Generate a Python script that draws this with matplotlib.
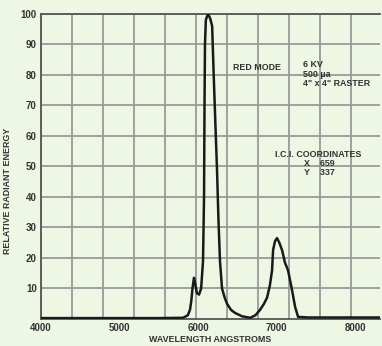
import matplotlib
matplotlib.use("Agg")
import matplotlib.pyplot as plt
import numpy as np

# spectrum (wavelength in angstroms, relative energy)
wavelength = [4000, 4500, 5000, 5500, 5809, 5870, 5898, 5915, 5930, 5949, 5962, 5985,
              6013, 6040, 6064, 6077, 6083, 6089, 6100, 6127, 6155, 6180, 6200,
              6220, 6242, 6260, 6280, 6306, 6340, 6370, 6420, 6471, 6560, 6663, 6730,
              6790, 6840, 6879, 6915, 6943, 6956, 6980, 7006, 7035, 7070, 7108,
              7146, 7197, 7236, 7274, 7400, 7810, 8318]
energy = [0.3, 0.3, 0.3, 0.3, 0.4, 1.2, 3, 6, 10, 13.5, 12, 8.5,
          8, 10, 19, 40, 70, 90, 98, 100, 98.5, 96, 80,
          65, 49, 33, 19, 10, 7, 5, 3, 2, 0.9, 0.4, 1.2,
          3, 5, 7, 11, 16, 22.6, 25.5, 26.5, 25, 22.6, 18.4,
          16, 9.5, 4, 0.7, 0.5, 0.5, 0.5]

x_ticks = [4000, 5000, 6000, 7000, 8000]
y_ticks = [10, 20, 30, 40, 50, 60, 70, 80, 90, 100]

bg = "#eef6e4"
plt.rcParams["font.family"] = ["Liberation Sans", "DejaVu Sans"]

fig = plt.figure(figsize=(3.82, 3.46), dpi=100, facecolor=bg)
ax = fig.add_axes([0.107, 0.078, 0.888, 0.882])
ax.set_facecolor(bg)

# paper grid: vertical lines about every 395 A, horizontal every 10 units
for gx in np.arange(4000, 8400, 395):
    ax.axvline(gx, color="#9a9a9a", lw=1.3, zorder=1)
for gy in y_ticks:
    ax.axhline(gy, color="#9a9a9a", lw=1.3, zorder=1)

ax.plot(wavelength, energy, color="#1a1a1a", lw=1.8, zorder=3)

ax.set_xlim(4000, 8318)
ax.set_ylim(0, 100)
ax.set_xticks(x_ticks)
ax.set_yticks(y_ticks)
ax.tick_params(length=0, labelsize=7, colors="#333333", pad=3)
for lab in ax.get_xticklabels() + ax.get_yticklabels():
    lab.set_fontweight("bold")
for s in ["top", "left", "bottom"]:
    ax.spines[s].set_color("#555555")
    ax.spines[s].set_linewidth(1.3)
ax.spines["right"].set_visible(False)

ax.set_xlabel("WAVELENGTH ANGSTROMS", fontsize=6.4, fontweight="bold", color="#333333", labelpad=1)
ax.set_ylabel("RELATIVE RADIANT ENERGY", fontsize=6.4, fontweight="bold", color="#333333")
ax.yaxis.set_label_coords(-0.085, 0.42)

txt = dict(fontsize=6.4, fontweight="bold", color="#333333", va="center", zorder=4)
ax.text(6446, 82.3, "RED MODE", **txt)
ax.text(7338, 83.3, "6 KV", **txt)
ax.text(7338, 80.2, "500 \u00b5a", **txt)
ax.text(7338, 77.1, "4\" x 4\" RASTER", **txt)
ax.text(6981, 53.8, "I.C.I. COORDINATES", **txt)
ax.text(7351, 50.8, "X    659", **txt)
ax.text(7351, 47.9, "Y    337", **txt)

fig.savefig("out.png", dpi=100, facecolor=bg)
